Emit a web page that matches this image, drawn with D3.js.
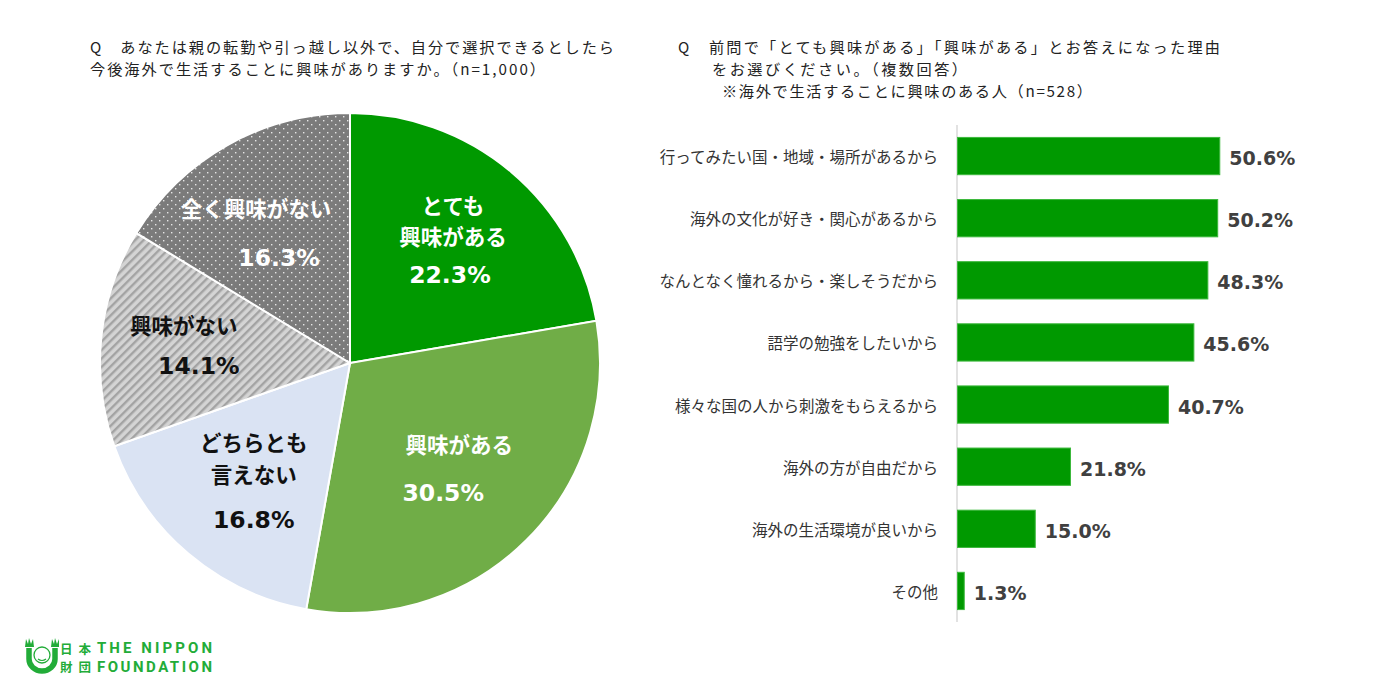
<!DOCTYPE html>
<html>
<head>
<meta charset="utf-8">
<script src="https://d3js.org/d3.v7.min.js"></script>
<title>海外生活への興味</title>
<style>
  body { margin:0; background:#fff; }
  svg text { font-family: "Noto Sans CJK JP", "Noto Sans", sans-serif; }
  .num { font-family: "DejaVu Sans", Verdana, sans-serif; font-weight: bold; }
</style>
</head>
<body>
<div id="chart"></div>
<script>
// 左：円グラフ
var pieLabels = [["とても", "興味がある"], ["興味がある"], ["どちらとも", "言えない"], ["興味がない"], ["全く興味がない"]];
var pieValues = [22.3, 30.5, 16.8, 14.1, 16.3];

// 右：棒グラフ
var reasons = ["行ってみたい国・地域・場所があるから", "海外の文化が好き・関心があるから", "なんとなく憧れるから・楽しそうだから",
  "語学の勉強をしたいから", "様々な国の人から刺激をもらえるから", "海外の方が自由だから", "海外の生活環境が良いから", "その他"];
var reasonValues = [50.6, 50.2, 48.3, 45.6, 40.7, 21.8, 15.0, 1.3];

var leftTitle = ["Q　あなたは親の転勤や引っ越し以外で、自分で選択できるとしたら", "今後海外で生活することに興味がありますか。（n=1,000）"];
var rightTitle = ["Q　前問で「とても興味がある」「興味がある」とお答えになった理由", "をお選びください。（複数回答）", "※海外で生活することに興味のある人（n=528）"];

var svg = d3.select("#chart").append("svg")
    .attr("width", 1384)
    .attr("height", 691);

// patterns
var defs = svg.append("defs");
var hatch = defs.append("pattern").attr("id", "hatch")
    .attr("patternUnits", "userSpaceOnUse").attr("width", 6).attr("height", 6)
    .attr("patternTransform", "rotate(45)");
hatch.append("rect").attr("width", 6).attr("height", 6).attr("fill", "#d4d4d4");
hatch.append("rect").attr("width", 2.4).attr("height", 6).attr("fill", "#a3a3a3");

var dots = defs.append("pattern").attr("id", "dots")
    .attr("patternUnits", "userSpaceOnUse").attr("width", 8).attr("height", 8);
dots.append("rect").attr("width", 8).attr("height", 8).attr("fill", "#7b7b7b");
dots.append("rect").attr("x", 1).attr("y", 1).attr("width", 1.4).attr("height", 1.4).attr("fill", "#e6e6e6");
dots.append("rect").attr("x", 5).attr("y", 5).attr("width", 1.4).attr("height", 1.4).attr("fill", "#e6e6e6");

var fills = ["#009900", "#70ad47", "#dae3f3", "url(#hatch)", "url(#dots)"];
var textColors = ["#fff", "#fff", "#111", "#111", "#fff"];
// label nudges: [title dx, title dy, number dx, number dy]
var nudge = [[3, -4, 0, -5], [0, -9, -16, 0], [4, -3, 4, 4], [-12, -2, 3, -1], [-18, 0, 5, 10]];

// titles
var leftW = [524, 455];
svg.append("g").selectAll("text").data(leftTitle).enter().append("text")
    .attr("x", 90).attr("y", function(d, i) { return 46 + i * 22; })
    .attr("dominant-baseline", "central")
    .attr("font-size", 15.2).attr("fill", "#222")
    .attr("textLength", function(d, i) { return leftW[i]; })
    .text(function(d) { return d; });

var rx = [678, 712, 722], rightW = [542, 255, 370];
svg.append("g").selectAll("text").data(rightTitle).enter().append("text")
    .attr("x", function(d, i) { return rx[i]; }).attr("y", function(d, i) { return 46 + i * 22; })
    .attr("dominant-baseline", "central")
    .attr("font-size", 15.2).attr("fill", "#222")
    .attr("textLength", function(d, i) { return rightW[i]; })
    .text(function(d) { return d; });

// pie
var cx = 350, cy = 363, r = 250;
var pie = d3.pie().sort(null).value(function(d) { return d; });
var arc = d3.arc().innerRadius(0).outerRadius(r);
var labelArc = d3.arc().innerRadius(155).outerRadius(155);
var arcs = pie(pieValues);

var gPie = svg.append("g").attr("transform", "translate(" + cx + "," + cy + ")");
gPie.selectAll("path").data(arcs).enter().append("path")
    .attr("d", arc)
    .attr("fill", function(d, i) { return fills[i]; })
    .attr("stroke", "#fff").attr("stroke-width", 2);

var lbl = gPie.selectAll("g.lbl").data(arcs).enter().append("g")
    .attr("class", "lbl")
    .attr("transform", function(d) { return "translate(" + labelArc.centroid(d) + ")"; });

lbl.each(function(d, i) {
  var g = d3.select(this);
  var lines = pieLabels[i];
  var n = nudge[i];
  var lh = 31.5, gap = 40;
  var total = (lines.length - 1) * 30 + gap;
  var y0 = -total / 2;
  lines.forEach(function(s, j) {
    g.append("text")
      .attr("x", n[0]).attr("y", y0 + j * lh + n[1] - (lines.length - 1) * 1.5)
      .attr("text-anchor", "middle").attr("dominant-baseline", "central")
      .attr("font-size", 21.5).attr("font-weight", "bold")
      .attr("fill", textColors[i]).text(s);
  });
  g.append("text").attr("class", "num")
    .attr("x", n[2]).attr("y", y0 + (lines.length - 1) * 30 + gap + n[3])
    .attr("text-anchor", "middle").attr("dominant-baseline", "central")
    .attr("font-size", 23.5)
    .attr("fill", textColors[i]).text(d.data.toFixed(1) + "%");
});

// bars
var x = d3.scaleLinear().domain([0, 60]).range([957, 1268]);
var y = d3.scaleBand().domain(reasons).range([125, 622]).paddingInner(0.4).paddingOuter(0.2);

svg.append("line")
    .attr("x1", x(0)).attr("x2", x(0)).attr("y1", 125).attr("y2", 622)
    .attr("stroke", "#d9d9d9").attr("stroke-width", 1.5);

svg.append("g").selectAll("rect").data(reasonValues).enter().append("rect")
    .attr("x", x(0) + 0.5)
    .attr("y", function(d, i) { return y(reasons[i]); })
    .attr("width", function(d) { return x(d) - x(0); })
    .attr("height", y.bandwidth())
    .attr("fill", "#009900")
    .attr("stroke", "#3cb83c").attr("stroke-width", 1);

svg.append("g").selectAll("text").data(reasonValues).enter().append("text")
    .attr("class", "num")
    .attr("x", function(d) { return x(d) + 10; })
    .attr("y", function(d, i) { return y(reasons[i]) + y.bandwidth() / 2 + 2; })
    .attr("dominant-baseline", "central")
    .attr("font-size", 19).attr("fill", "#404040")
    .text(function(d) { return d.toFixed(1) + "%"; });

svg.append("g").selectAll("text").data(reasons).enter().append("text")
    .attr("x", 938)
    .attr("y", function(d) { return y(d) + y.bandwidth() / 2; })
    .attr("text-anchor", "end").attr("dominant-baseline", "central")
    .attr("font-size", 15.5).attr("fill", "#333")
    .text(function(d) { return d; });

// logo
var green = "#22ac38";
var logo = svg.append("g").attr("fill", green);
logo.append("path")
    .attr("d", "M29,648 L29,659 A13,12 0 0 0 55,659 L55,648")
    .attr("fill", "none").attr("stroke", green).attr("stroke-width", 5.5);
logo.append("path").attr("d", "M25,647 l1,-8 l2,5 l1,-6 l2,6 l2,-5 l1,8 z M51,647 l1,-8 l2,5 l1,-6 l2,6 l2,-5 l0,8 z");
logo.append("circle").attr("cx", 42).attr("cy", 655).attr("r", 8).attr("fill", "none")
    .attr("stroke", green).attr("stroke-width", 1.3);
logo.append("path").attr("d", "M38,659 q4,3 8,0").attr("fill", "none").attr("stroke", green).attr("stroke-width", 1.2);
logo.selectAll("text.jp").data(["日本", "財団"]).enter().append("text")
    .attr("class", "jp")
    .attr("x", 60).attr("y", function(d, i) { return 648 + i * 18.5; })
    .attr("dominant-baseline", "central")
    .attr("font-size", 12.5).attr("font-weight", "bold")
    .attr("textLength", 31)
    .text(function(d) { return d; });
logo.selectAll("text.en").data(["THE NIPPON", "FOUNDATION"]).enter().append("text")
    .attr("class", "en")
    .attr("x", 97).attr("y", function(d, i) { return 648 + i * 18.5; })
    .attr("dominant-baseline", "central")
    .attr("font-size", 15).attr("font-weight", "bold")
    .style("font-family", "Roboto, 'DejaVu Sans', sans-serif")
    .attr("textLength", 115)
    .text(function(d) { return d; });
</script>
</body>
</html>
